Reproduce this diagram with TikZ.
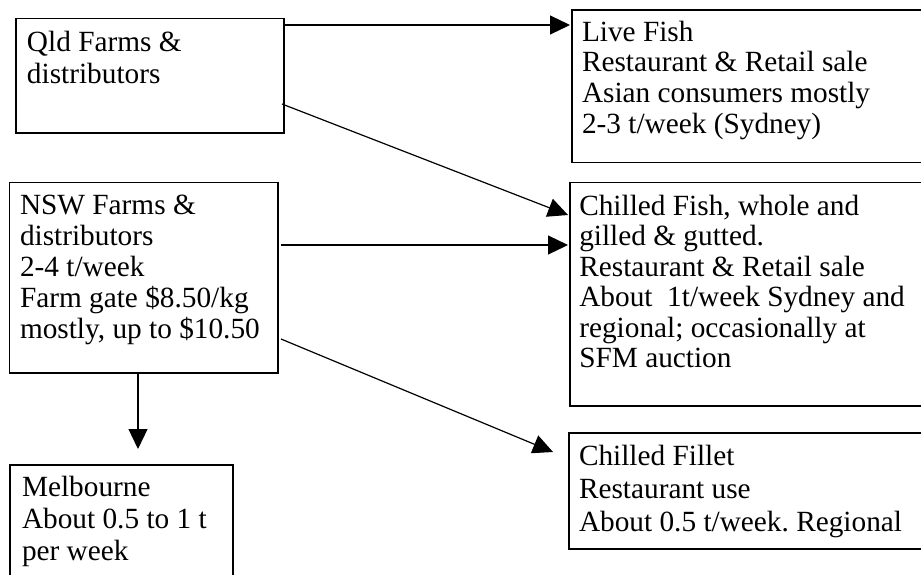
\documentclass[tikz,border=0pt]{standalone}
\usepackage{fontspec}
\setmainfont{Liberation Serif}
\usetikzlibrary{arrows.meta}
\frenchspacing
\tikzset{
  box/.style={draw, line width=1.3pt, inner sep=0pt, outer sep=0pt, anchor=north west},
  txt/.style={anchor=north west, inner sep=0pt, outer sep=0pt, align=left},
  arr/.style={line width=1.2pt, -{Triangle[length=20pt,width=19pt]}},
}
\newcommand{\fs}[1]{\fontsize{29.3pt}{#1}\selectfont}
\newcommand{\tstrut}{\rule{0pt}{23pt}}
\begin{document}
\begin{tikzpicture}[x=1pt,y=-1pt]
\useasboundingbox (0,0) rectangle (921,574);
\clip (0,0) rectangle (921,574);
% boxes
\node[box, minimum width=268pt, minimum height=114.5pt] (qld) at (16,18.5) {};
\node[box, minimum width=360pt, minimum height=152.5pt] (live) at (572,10) {};
\node[box, minimum width=268.5pt, minimum height=190.3pt] (nsw) at (9.5,182.7) {};
\node[box, minimum width=360pt, minimum height=223.3pt] (chf) at (570,182.7) {};
\node[box, minimum width=360pt, minimum height=116pt] (fil) at (569,433) {};
\node[box, minimum width=223pt, minimum height=130pt] (mel) at (10,465) {};
% texts
\node[txt, font=\fs{31.5pt}] (qldt) at ([shift={(11pt,-10pt)}]qld.north west)
  {\tstrut Qld Farms \&\\distributors};
\node[txt, font=\fs{30.8pt}] (livet) at ([shift={(10pt,-8pt)}]live.north west)
  {\tstrut Live Fish\\Restaurant \& Retail sale\\Asian consumers mostly\\2-3 t/week (Sydney)};
\node[txt, font=\fs{31pt}] (nswt) at ([shift={(10.5pt,-9pt)}]nsw.north west)
  {\tstrut NSW Farms \&\\distributors\\2-4 t/week\\Farm gate \$8.50/kg\\mostly, up to \$10.50};
\node[txt, font=\fs{30.5pt}] (chft) at ([shift={(9.3pt,-9.3pt)}]chf.north west)
  {\tstrut Chilled Fish, whole and\\gilled \& gutted.\\Restaurant \& Retail sale\\About\ \ 1t/week Sydney and\\regional; occasionally at\\SFM auction};
\node[txt, font=\fs{33pt}] (filt) at ([shift={(10pt,-9pt)}]fil.north west)
  {\tstrut Chilled Fillet\\Restaurant use\\About 0.5 t/week. Regional};
\node[txt, font=\fs{32pt}] (melt) at ([shift={(12pt,-8pt)}]mel.north west)
  {\tstrut Melbourne\\About 0.5 to 1 t\\per week};
% connectors
\draw[arr] ([yshift=-6.5pt]qld.north east) -- ([shift={(-2pt,-15pt)}]live.north west);
\draw[arr] ([shift={(-2pt,29pt)}]qld.south east) -- ([shift={(-2pt,-32.3pt)}]chf.north west);
\draw[arr] ([shift={(3pt,-62.3pt)}]nsw.north east) -- ([shift={(-2pt,-62.3pt)}]chf.north west);
\draw[arr] ([shift={(3pt,34pt)}]nsw.south east) -- ([shift={(-16pt,-19pt)}]fil.north west);
\draw[arr, shorten >=16pt] ([xshift=128.5pt]nsw.south west) -- ([xshift=128.5pt]nsw.south west |- mel.north);
\end{tikzpicture}
\end{document}
